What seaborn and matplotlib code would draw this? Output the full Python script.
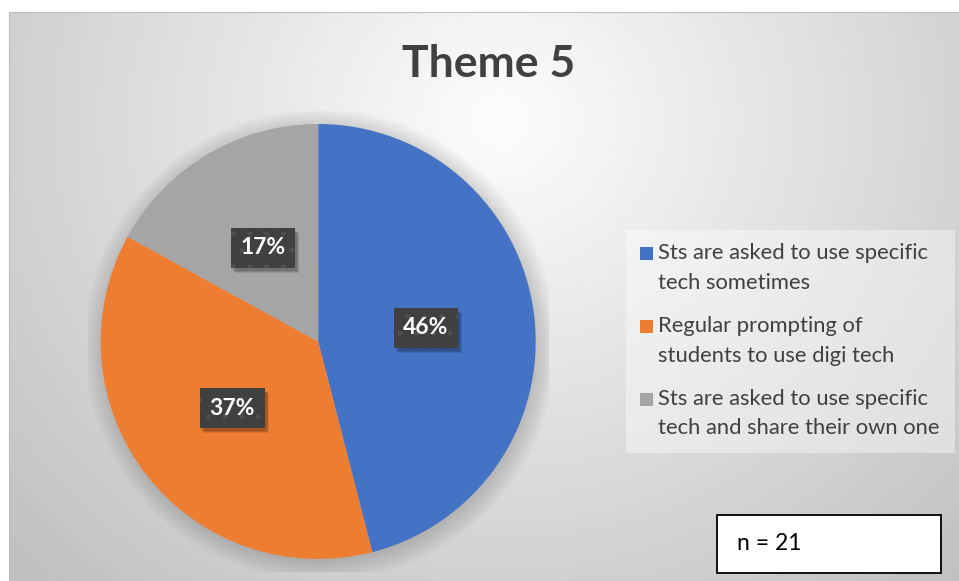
import numpy as np
import matplotlib
matplotlib.use("Agg")
import matplotlib.pyplot as plt
import matplotlib.patches as mpatches
import seaborn as sns

# data
title = "Theme 5"
categories = ["Sts are asked to use specific\ntech sometimes",
              "Regular prompting of\nstudents to use digi tech",
              "Sts are asked to use specific\ntech and share their own one"]
shares = [46, 37, 17]
colors = ["#4472C4", "#ED7D31", "#A5A5A5"]
note = "n = 21"

sns.set_theme(style="white")
sns.set_palette(colors)
plt.rcParams['font.family'] = ['Lato', 'DejaVu Sans']

W, H = 959, 581
fig = plt.figure(figsize=(W / 100, H / 100), dpi=100)
fig.patch.set_facecolor("white")

def fx(px):
    return px / W

def fy(py):
    return 1 - py / H

# radial grey background of the chart area
x0, y0 = 9, 12
bg = fig.add_axes([fx(x0), 0, fx(W - x0), fy(y0)])
xx, yy = np.meshgrid(np.arange(x0, W), np.arange(y0, H))
d = np.sqrt(((xx - 500) / 620.0) ** 2 + ((yy - 120) / 580.0) ** 2)
d = np.clip(d, 0, 1.1) / 1.1
grey = 0.99 - (0.99 - 0.75) * d
bg.imshow(grey, cmap="gray", vmin=0, vmax=1, aspect="auto", interpolation="bilinear")
bg.set_axis_off()
fig.patches.append(mpatches.Rectangle((fx(x0), 0), fx(W - x0), fy(y0), transform=fig.transFigure,
                                      fill=False, ec="#bdbdbd", lw=0.8))

fig.text(fx(489), fy(77), title, ha="center", va="baseline", fontsize=32,
         fontweight="bold", color="#404040")

# pie
cx, cy, r = 318.2, 341.5, 217.5
pad = 1.06
ax = fig.add_axes([fx(cx - r * pad), fy(cy + r * pad), fx(2 * r * pad), (2 * r * pad) / H])
for k in range(8):
    ax.add_patch(mpatches.Circle((0.01, -0.015), 1.0 + 0.012 * k, color="black",
                                 alpha=0.018, lw=0, zorder=0))
wedges, texts, autotexts = ax.pie(shares, colors=colors, startangle=90, counterclock=False,
                                  autopct=lambda p: f"{p:.0f}%", pctdistance=0.5,
                                  wedgeprops=dict(linewidth=0),
                                  textprops=dict(color="white", fontsize=16.5, fontweight="bold"))
ax.set_xlim(-pad, pad)
ax.set_ylim(-pad, pad)
ax.set_position([fx(cx - r * pad), fy(cy + r * pad), fx(2 * r * pad), (2 * r * pad) / H])

for t in autotexts:
    t.set_bbox(dict(boxstyle="square,pad=0.42", fc="#404040", ec="#505050", lw=0, hatch="."))
    t.set_zorder(5)

# soft drop shadow behind the label boxes
fig.canvas.draw()
for t in autotexts:
    bb = t.get_bbox_patch().get_window_extent()
    for k, a in enumerate([0.12, 0.12, 0.1]):
        ax.add_patch(mpatches.Rectangle((fx(bb.x0 + 2 + k), (bb.y0 - 3 - k) / H),
                                        fx(bb.width), bb.height / H,
                                        transform=fig.transFigure, fc="black",
                                        alpha=a, ec="none", zorder=4, clip_on=False))

# legend drawn by hand so the squares sit on the first line of each label
fig.patches.append(mpatches.Rectangle((fx(626), fy(453)), fx(329), (453 - 230) / H,
                                      transform=fig.transFigure, fc="white", alpha=0.4, ec="none"))
for i, (lab, col) in enumerate(zip(categories, colors)):
    top = 247 + 73 * i
    fig.patches.append(mpatches.Rectangle((fx(640), fy(top + 13)), fx(13), 13 / H,
                                          transform=fig.transFigure, fc=col, ec="none"))
    fig.text(fx(658), fy(288.5 + 73 * i), lab, ha="left", va="baseline", fontsize=15.8,
             color="#404040", linespacing=1.62)

# note box
fig.patches.append(mpatches.Rectangle((fx(717), fy(573)), fx(224), (573 - 515) / H,
                                      transform=fig.transFigure, fc="white", ec="black", lw=1.3))
fig.text(fx(737), fy(550), note, ha="left", va="baseline", fontsize=16.5, color="black")

fig.savefig("out.png", dpi=100)
